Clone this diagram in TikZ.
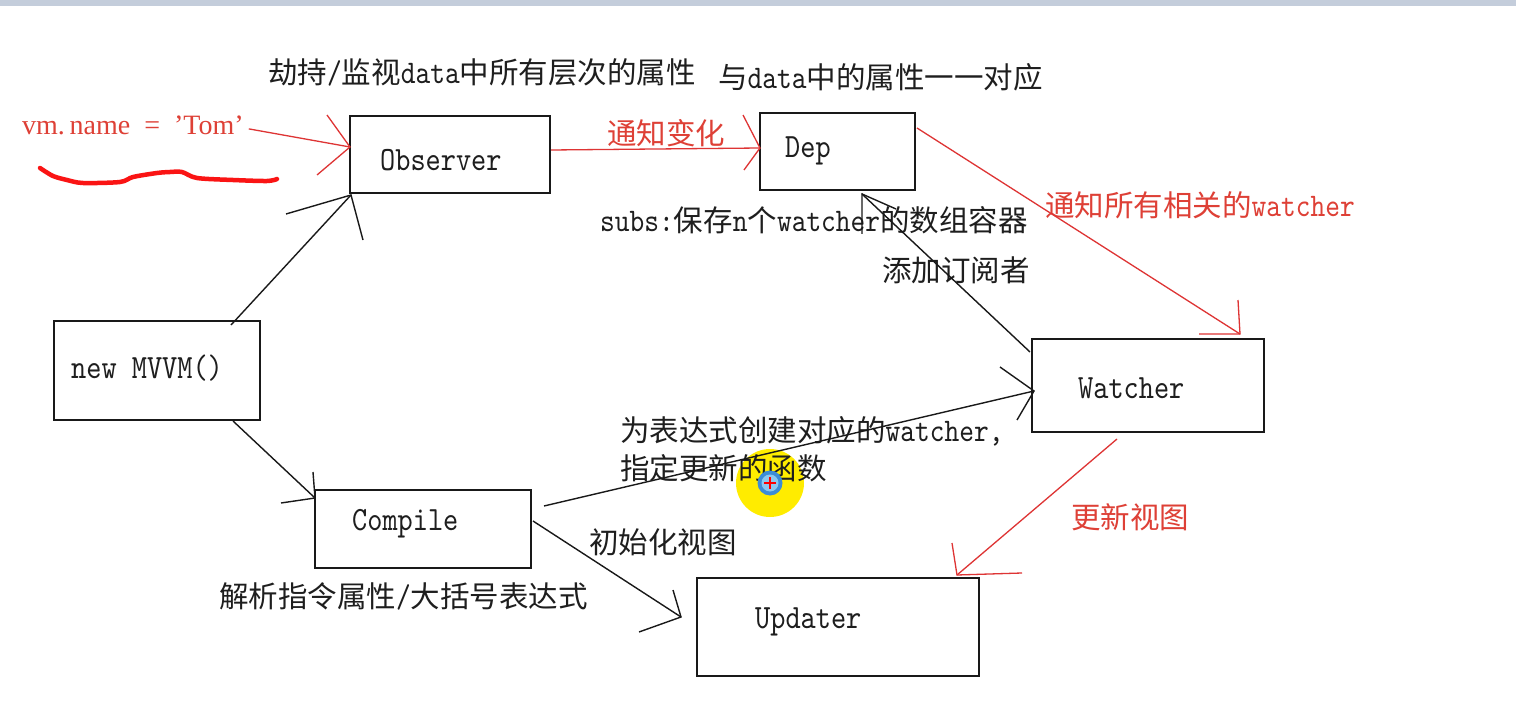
\documentclass[tikz,border=0pt]{standalone}
\usepackage{fontspec}
\usetikzlibrary{calc}
\newfontfamily\cjk{Noto Sans CJK SC}
\newfontfamily\mono[FakeStretch=0.85,Extension=.otf]{lmmono10-regular}
\newfontfamily\serifR{Liberation Serif}
\definecolor{redtxt}{RGB}{222,64,54}
\definecolor{redline}{RGB}{222,52,52}
\definecolor{squig}{RGB}{250,20,20}
\definecolor{txt}{RGB}{30,30,30}
\definecolor{linec}{RGB}{25,25,25}
\definecolor{topband}{RGB}{196,205,219}
\definecolor{cursorY}{RGB}{255,236,0}
\definecolor{cursorB}{RGB}{60,140,215}
\definecolor{cursorL}{RGB}{140,200,240}
\newcommand\m[1]{{\fontsize{33}{36}\mono #1}}
\newcommand\arms[4][]{\draw[#1] ($(#2)+(#3)$) -- (#2) -- ($(#2)+(#4)$);}
\tikzset{
  box/.style={draw=linec, line width=2pt, rectangle, inner sep=0pt, anchor=north west},
  lbl/.style={anchor=base west, inner sep=0pt, font=\cjk\fontsize{29.5}{34}\selectfont, text=txt},
  rlbl/.style={lbl, text=redtxt},
  boxlbl/.style={anchor=base west, inner sep=0pt, font=\fontsize{34}{38}\mono, text=txt},
  conn/.style={draw=linec, line width=1.4pt},
  rconn/.style={draw=redline, line width=1.3pt},
}
\begin{document}
\begin{tikzpicture}[x=1pt, y=-1pt]
\fill[white] (0,0) rectangle (1516,714);
\useasboundingbox (0,0) rectangle (1516,714);
\fill[topband] (0,0) rectangle (1516,6);

% cursor highlight (behind)
\fill[cursorY] (770,483) circle (34);

% boxes
\node[box, minimum width=200pt, minimum height=77pt] (obs) at (349,115) {};
\node[box, minimum width=155pt, minimum height=77pt] (dep) at (759,112) {};
\node[box, minimum width=206pt, minimum height=99pt] (mvvm) at (53,320) {};
\node[box, minimum width=232pt, minimum height=93pt] (wat) at (1031,338) {};
\node[box, minimum width=216pt, minimum height=78pt] (comp) at (314,489) {};
\node[box, minimum width=282pt, minimum height=98pt] (upd) at (696,577) {};

% box labels
\node[boxlbl] (obsL) at (380,171) {Observer};
\node[boxlbl] (depL) at (785,158) {Dep};
\node[boxlbl] (mvvmL) at (71,378) {new MVVM()};
\node[boxlbl] (watL) at (1078,398) {Watcher};
\node[boxlbl] (compL) at (352,530) {Compile};
\node[boxlbl] (updL) at (755,628) {Updater};

% text labels
\node[lbl] (t1) at (268,84) {劫持\m{/}监视\m{data}中所有层次的属性};
\node[lbl] (t2) at (718,89) {与\m{data}中的属性一一对应};
\node[anchor=base west, inner sep=0pt, font=\serifR\fontsize{28}{32}\selectfont, text=redtxt] (vm) at (22,135) {vm.\,name\ \ =\ \ ’Tom’};
\node[rlbl] (t3) at (607,145) {通知变化};
\node[lbl] (t4) at (600,232) {\m{subs:}保存\m{n}个\m{watcher}的数组容器};
\node[rlbl] (t5) at (1045,217) {通知所有相关的\m{watcher}};
\node[lbl] (t6) at (882,281) {添加订阅者};
\node[lbl] (t7) at (620,441) {为表达式创建对应的\m{watcher,}};
\node[lbl] (t8) at (620,479) {指定更新的函数};
\node[lbl] (t9) at (589,553) {初始化视图};
\node[lbl] (t10) at (219,607) {解析指令属性\m{/}大括号表达式};
\node[rlbl] (t11) at (1071,528) {更新视图};

% red squiggle under vm.name
\draw[squig, line width=4.5pt, line cap=round, line join=round]
  plot[smooth, tension=0.5] coordinates {(40,168) (53,176) (67,180) (83,183) (120,182) (133,177) (157,173) (170,172) (182,172) (197,178) (233,180) (267,181) (277,179)};

% connector end points
\coordinate (a1) at ($(vm.east)+(5,3)$);
\coordinate (b1) at ($(obs.north west)+(1,32)$);
\coordinate (a2) at ($(obs.north east)+(0,35)$);
\coordinate (b2) at ($(dep.north west)+(1,36)$);
\coordinate (a3) at ($(dep.north east)+(1,16)$);
\coordinate (b3) at ($(wat.north west)+(209,-4)$);
\coordinate (a4) at ($(wat.south west)+(86,6)$);
\coordinate (b4) at ($(upd.north west)+(261,-2)$);
\coordinate (a5) at ($(wat.north west)+(-1,14)$);
\coordinate (b5) at ($(dep.south west)+(103,3)$);
\coordinate (a6) at ($(mvvm.north west)+(178,5)$);
\coordinate (b6) at ($(obs.south west)+(2,1)$);
\coordinate (a7) at ($(mvvm.south west)+(180,0)$);
\coordinate (b7) at ($(comp.north west)+(1,9)$);
\coordinate (a8) at ($(comp.north east)+(12,17)$);
\coordinate (b8) at ($(wat.north west)+(3,53)$);
\coordinate (a9) at ($(comp.north east)+(1,32)$);
\coordinate (b9) at ($(upd.north west)+(-15,40)$);

% red connectors
\draw[rconn] (a1) -- (b1);
\arms[rconn]{b1}{-23,-32}{-33,28}
\draw[rconn] (a2) -- (b2);
\arms[rconn]{b2}{-17,-33}{-16,22}
\draw[rconn] (a3) -- (b3);
\arms[rconn]{b3}{-2,-34}{-41,0}
\draw[rconn] (a4) -- (b4);
\arms[rconn]{b4}{-5,-32}{65,-2}

% black connectors
\draw[conn] (a5) -- (b5);
\arms[conn]{b5}{34,15}{0,40}
\draw[conn] (a6) -- (b6);
\arms[conn]{b6}{-65,19}{12,45}
\draw[conn] (a7) -- (b7);
\arms[conn]{b7}{-2,-26}{-34,5}
\draw[conn] (a8) -- (b8);
\arms[conn]{b8}{-34,-24}{-17,29}
\draw[conn] (a9) -- (b9);
\arms[conn]{b9}{-8,-27}{-42,15}

% cursor centre
\fill[cursorB] (770,483) circle (12.5);
\fill[cursorL] (770,483) circle (8.5);
\draw[red, line width=2.5pt] (764,483) -- (776,483) (770,477) -- (770,489);
\end{tikzpicture}
\end{document}
